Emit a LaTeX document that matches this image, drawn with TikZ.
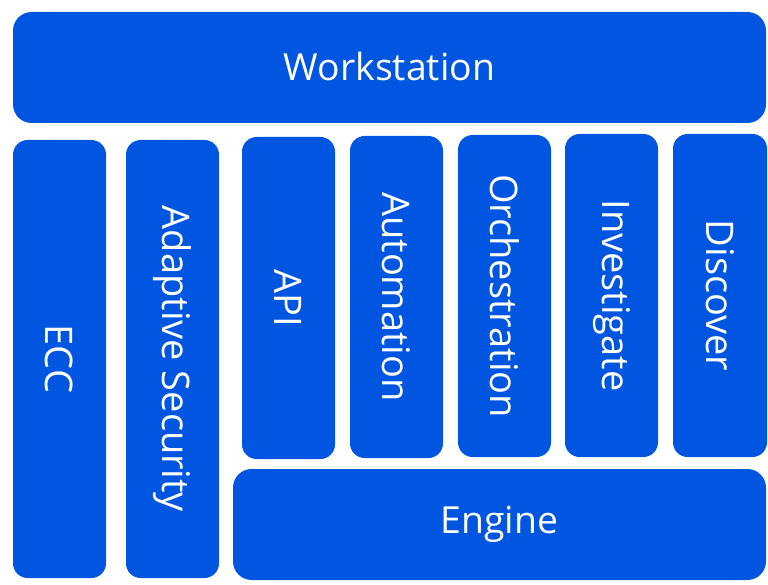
\documentclass[tikz,border=0pt]{standalone}
\usepackage{fontspec}
\setmainfont{Open Sans}
\definecolor{boxblue}{HTML}{0056E0}
\begin{document}
\begin{tikzpicture}[x=0.75pt,y=-0.75pt,
  blk/.style={fill=boxblue,draw=none,rounded corners=11pt,text=white},
  lbl/.style={text=white,font=\fontsize{28}{32}\selectfont},
  vlbl/.style={text=white,font=\fontsize{28.5}{32}\selectfont,rotate=-90}]
\useasboundingbox (0,0) rectangle (768,585);
\fill[blk,rounded corners=14pt] (13,12) rectangle (766,123);
\node[lbl] (ws) at (389.5,67) {Workstation};
\fill[blk] (13,140) rectangle (106,578);
\node[vlbl] (ecc) at (59.5,359) {ECC};
\fill[blk] (126,140) rectangle (219,578);
\node[vlbl] (as) at (172.5,359) {Adaptive Security};
\fill[blk] (242,137) rectangle (335,459);
\node[vlbl] (api) at (288.5,298) {API};
\fill[blk] (350,136) rectangle (443,458);
\node[vlbl] (auto) at (396.5,297) {Automation};
\fill[blk] (458,135) rectangle (551,457);
\node[vlbl] (orch) at (504.5,296) {Orchestration};
\fill[blk] (565,134) rectangle (658,457);
\node[vlbl] (inv) at (611.5,295.5) {Investigate};
\fill[blk] (673,134) rectangle (767,457);
\node[vlbl] (disc) at (720,295.5) {Discover};
\fill[blk,rounded corners=14pt] (233,469) rectangle (766,580);
\node[lbl] (eng) at (499.5,524.5) {Engine};
\end{tikzpicture}
\end{document}
